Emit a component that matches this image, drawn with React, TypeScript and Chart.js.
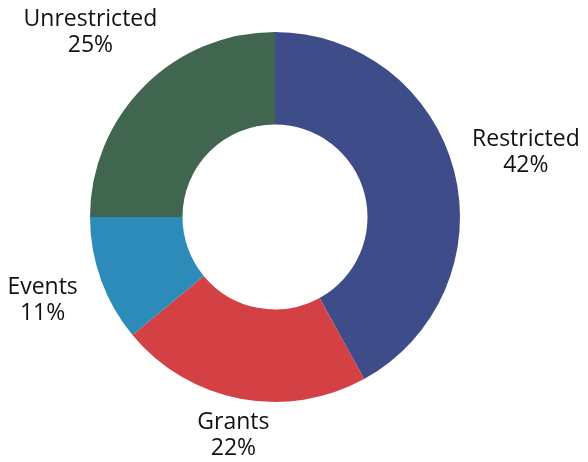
import React, { useEffect, useRef } from "react";
import { Chart, registerables } from "chart.js";

Chart.register(...registerables);

const categories = ["Restricted", "Grants", "Events", "Unrestricted"];
const values = [42, 22, 11, 25];
const colors = ["#3E4D89", "#D34144", "#2D8BBA", "#41664F"];

const FONT = "'Open Sans', 'DejaVu Sans', sans-serif";
// extra distance (px) beyond the outer radius, along each slice's mid-angle
const labelGap = [74, 37, 62, 76];

const outsideLabels = {
  id: "outsideLabels",
  afterDatasetsDraw(chart: any) {
    const ctx = chart.ctx as CanvasRenderingContext2D;
    const meta = chart.getDatasetMeta(0);
    const total = values.reduce((a, b) => a + b, 0);
    ctx.save();
    ctx.font = `23px ${FONT}`;
    ctx.fillStyle = "#111111";
    ctx.textAlign = "center";
    ctx.textBaseline = "middle";
    const lineH = 26;
    meta.data.forEach((arc: any, i: number) => {
      const { x, y, startAngle, endAngle, outerRadius } = arc.getProps(
        ["x", "y", "startAngle", "endAngle", "outerRadius"],
        true
      );
      const mid = (startAngle + endAngle) / 2;
      const r = outerRadius + labelGap[i];
      const cx = x + Math.cos(mid) * r;
      const cy = y + Math.sin(mid) * r;
      const l1 = categories[i];
      const l2 = Math.round((values[i] / total) * 100) + "%";
      ctx.fillText(l1, cx, cy - lineH / 2);
      ctx.fillText(l2, cx, cy + lineH / 2);
    });
    ctx.restore();
  },
};

export default function App() {
  const ref = useRef<HTMLCanvasElement>(null);
  useEffect(() => {
    if (!ref.current) return;
    const chart = new Chart(ref.current, {
      type: "doughnut",
      data: {
        labels: categories,
        datasets: [
          {
            data: values,
            backgroundColor: colors,
            borderWidth: 0,
          },
        ],
      },
      options: {
        responsive: false,
        animation: false,
        cutout: "50%",
        layout: { padding: { left: 90, right: 128, top: 32, bottom: 60 } },
        plugins: {
          legend: { display: false },
          tooltip: { enabled: false },
        },
      },
      plugins: [outsideLabels],
    });
    return () => chart.destroy();
  }, []);
  return (
    <div style={{ position: "fixed", left: 0, top: 0, width: 588, height: 462, background: "#fff" }}>
      <canvas ref={ref} width={588} height={462} style={{ width: 588, height: 462 }} />
    </div>
  );
}
